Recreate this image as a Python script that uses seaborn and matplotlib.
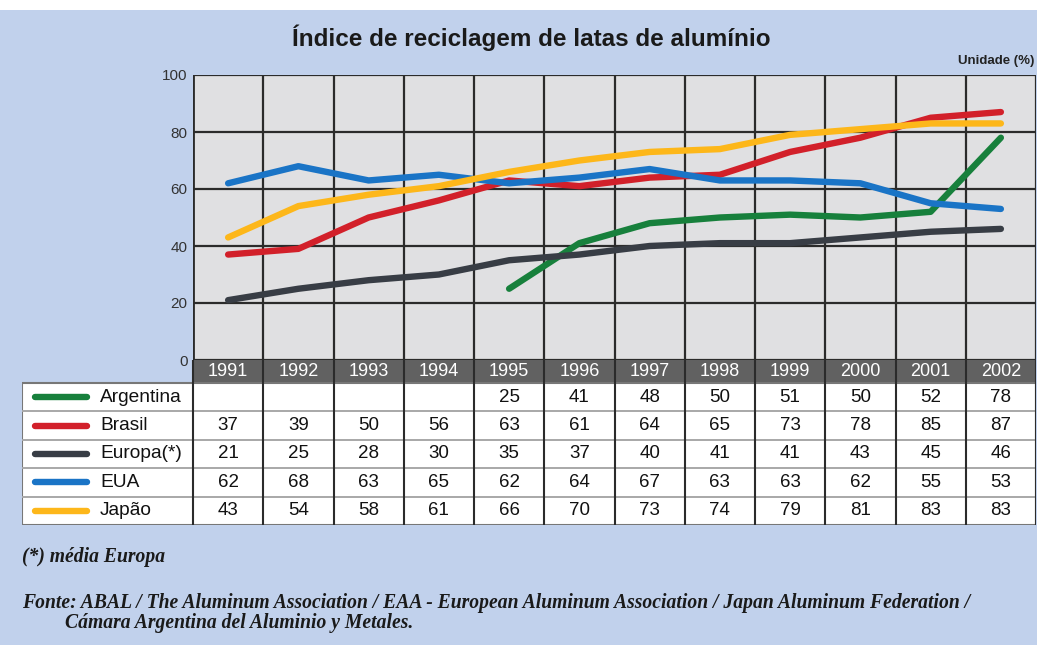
"""
Índice de reciclagem de latas de alumínio (1991-2002): line chart with data table below.
"""

import matplotlib
matplotlib.use("Agg")
import matplotlib.pyplot as plt
from matplotlib.patches import Rectangle
import numpy as np
import pandas as pd
import seaborn as sns

W, H = 1037, 645

anos = ["1991", "1992", "1993", "1994", "1995", "1996",
        "1997", "1998", "1999", "2000", "2001", "2002"]
paises = ["Argentina", "Brasil", "Europa(*)", "EUA", "Japão"]

argentina = [np.nan, np.nan, np.nan, np.nan, 25, 41, 48, 50, 51, 50, 52, 78]
brasil = [37, 39, 50, 56, 63, 61, 64, 65, 73, 78, 85, 87]
europa = [21, 25, 28, 30, 35, 37, 40, 41, 41, 43, 45, 46]
eua = [62, 68, 63, 65, 62, 64, 67, 63, 63, 62, 55, 53]
japao = [43, 54, 58, 61, 66, 70, 73, 74, 79, 81, 83, 83]

cores = {
    "Argentina": "#17803c",
    "Brasil": "#d2202a",
    "Europa(*)": "#383d45",
    "EUA": "#1a74c6",
    "Japão": "#fdb71a",
}

BG = "#c1d1ec"
GRID = "#2b2b2b"


def px_box(x0, y0, x1, y1):
    """Pixel box (top-left origin) -> figure rect."""
    return [x0 / W, 1 - y1 / H, (x1 - x0) / W, (y1 - y0) / H]


series = dict(zip(paises, [argentina, brasil, europa, eua, japao]))
df = pd.DataFrame(
    [(i, p, v) for p, vals in series.items() for i, v in enumerate(vals)],
    columns=["pos", "pais", "valor"],
).dropna()

sns.set_style("white")
plt.rcParams["font.family"] = ["Liberation Sans", "DejaVu Sans"]

fig = plt.figure(figsize=(W / 100, H / 100), dpi=100)
fig.patch.set_facecolor(BG)
fig.patches.append(Rectangle((0, 1 - 10 / H), 1, 10 / H, transform=fig.transFigure,
                             facecolor="white", edgecolor="none", zorder=0))

# ---- line chart ----
ax = fig.add_axes(px_box(193, 75, 1036, 360))
ax.set_facecolor("#e0e0e2")
sns.lineplot(data=df, x="pos", y="valor", hue="pais", hue_order=paises,
             palette=cores, linewidth=4.6, legend=False, ax=ax,
             solid_capstyle="round", solid_joinstyle="round", zorder=3)
ax.set_xlim(-0.5, len(anos) - 0.5)
ax.set_ylim(0, 100)
ax.set_xticks(np.arange(-0.5, len(anos), 1))
ax.set_xticklabels([])
ax.set_yticks(range(0, 101, 20))
ax.set_yticklabels([str(v) for v in range(0, 101, 20)], fontsize=11, color="#333333")
ax.tick_params(length=0, pad=4)
ax.grid(True, color=GRID, linewidth=1.6, zorder=1)
ax.set_axisbelow(True)
ax.set_xlabel("")
ax.set_ylabel("")
for s in ax.spines.values():
    s.set_visible(False)
ax.axvline(-0.5, color=GRID, linewidth=2)

# ---- table ----
tab = fig.add_axes(px_box(22, 360, 1036, 525))
col_px = (1036 - 193) / len(anos)
x0 = -0.5 - (193 - 22) / col_px
hdr = 23 / 28.4
tab.set_xlim(x0, len(anos) - 0.5)
tab.set_ylim(len(paises), -hdr)
tab.axis("off")

tab.add_patch(Rectangle((-0.5, -hdr), len(anos), hdr, facecolor="#616161",
                        edgecolor="none", zorder=1))
tab.add_patch(Rectangle((x0, 0), len(anos) - 0.5 - x0, len(paises), facecolor="white",
                        edgecolor="#777777", linewidth=1.5, zorder=1))
for i, ano in enumerate(anos):
    tab.text(i, -hdr / 2, ano, color="white", fontsize=13, ha="center", va="center",
             zorder=4)
for r in range(1, len(paises)):
    tab.plot([x0, len(anos) - 0.5], [r, r], color="#a8a8a8", linewidth=1.4, zorder=2)
for c in np.arange(-0.5, len(anos), 1):
    tab.plot([c, c], [-hdr, len(paises)], color=GRID, linewidth=1.5, zorder=3)

for r, p in enumerate(paises):
    yc = r + 0.5
    tab.plot([x0 + 0.19, x0 + 0.93], [yc, yc], color=cores[p], linewidth=4.6,
             solid_capstyle="round", zorder=4)
    tab.text(x0 + 1.11, yc, p, fontsize=13.8, ha="left", va="center", color="#111111",
             zorder=4)
    for i, v in enumerate(series[p]):
        if not np.isnan(v):
            tab.text(i, yc, f"{v:.0f}", fontsize=13.5, ha="center", va="center",
                     color="#111111", zorder=4)

# ---- texts ----
fig.text(531 / W, 1 - 38 / H, "Índice de reciclagem de latas de alumínio",
         fontsize=17.5, ha="center", va="center", color="#1a1a1a", fontweight="bold")
fig.text(1034 / W, 1 - 61 / H, "Unidade (%)", fontsize=9.5, ha="right", va="center",
         color="#222222", fontweight="bold")

serif = dict(family=["Liberation Serif", "DejaVu Serif"], style="italic",
             fontweight="bold", color="#1a1a1a", fontsize=14.1)
fig.text(22 / W, 1 - 557 / H, "(*) média Europa", ha="left", va="center", **serif)
fig.text(22 / W, 1 - 603 / H,
         "Fonte: ABAL / The Aluminum Association / EAA - European Aluminum Association "
         "/ Japan Aluminum Federation /", ha="left", va="center", **serif)
fig.text(65 / W, 1 - 623 / H, "Cámara Argentina del Aluminio y Metales.",
         ha="left", va="center", **serif)

fig.savefig("out.png", dpi=100, facecolor=fig.get_facecolor())
